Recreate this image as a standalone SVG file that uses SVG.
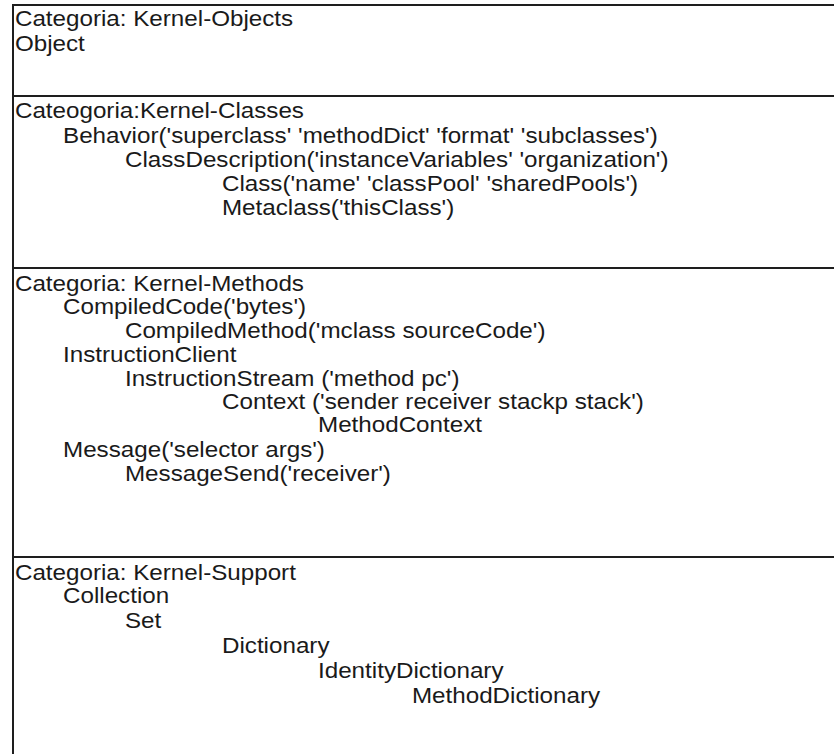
<svg xmlns="http://www.w3.org/2000/svg" width="834" height="754" viewBox="0 0 834 754">
  <style>
    .t { font-family: "Liberation Sans", Arial, sans-serif; font-size: 22px; fill: #1a1a1a; }
    .rule { stroke: #1e1e1e; stroke-width: 2; fill: none; }
  </style>
  <rect x="0" y="0" width="834" height="754" fill="#ffffff"/>

  <!-- table rules -->
  <g id="rules">
    <line class="rule" x1="13" y1="5" x2="834" y2="5"/>
    <line class="rule" x1="13" y1="96" x2="834" y2="96"/>
    <line class="rule" x1="13" y1="268" x2="834" y2="268"/>
    <line class="rule" x1="13" y1="557" x2="834" y2="557"/>
    <line class="rule" x1="13" y1="4" x2="13" y2="754"/>
  </g>

  <!-- text is set slightly wide: x coordinates are in the scaled space (÷1.1) -->
  <g id="kernel-objects" transform="scale(1.1,1)">
    <text class="t" x="13.6" y="26">Categoria: Kernel-Objects</text>
    <text class="t" x="13.6" y="51">Object</text>
  </g>

  <g id="kernel-classes" transform="scale(1.1,1)">
    <text class="t" x="13.6" y="118">Cateogoria:Kernel-Classes</text>
    <text class="t" x="57.3" y="143">Behavior('superclass' 'methodDict' 'format' 'subclasses')</text>
    <text class="t" x="113.6" y="167">ClassDescription('instanceVariables' 'organization')</text>
    <text class="t" x="201.8" y="191">Class('name' 'classPool' 'sharedPools')</text>
    <text class="t" x="201.8" y="215">Metaclass('thisClass')</text>
  </g>

  <g id="kernel-methods" transform="scale(1.1,1)">
    <text class="t" x="13.6" y="291">Categoria: Kernel-Methods</text>
    <text class="t" x="57.3" y="314">CompiledCode('bytes')</text>
    <text class="t" x="113.6" y="338">CompiledMethod('mclass sourceCode')</text>
    <text class="t" x="57.3" y="362">InstructionClient</text>
    <text class="t" x="113.6" y="386">InstructionStream ('method pc')</text>
    <text class="t" x="201.8" y="409">Context ('sender receiver stackp stack')</text>
    <text class="t" x="289.1" y="432">MethodContext</text>
    <text class="t" x="57.3" y="457">Message('selector args')</text>
    <text class="t" x="113.6" y="481">MessageSend('receiver')</text>
  </g>

  <g id="kernel-support" transform="scale(1.1,1)">
    <text class="t" x="13.6" y="580">Categoria: Kernel-Support</text>
    <text class="t" x="57.3" y="603">Collection</text>
    <text class="t" x="113.6" y="628">Set</text>
    <text class="t" x="201.8" y="653">Dictionary</text>
    <text class="t" x="289.1" y="678">IdentityDictionary</text>
    <text class="t" x="374.5" y="703">MethodDictionary</text>
  </g>
</svg>
